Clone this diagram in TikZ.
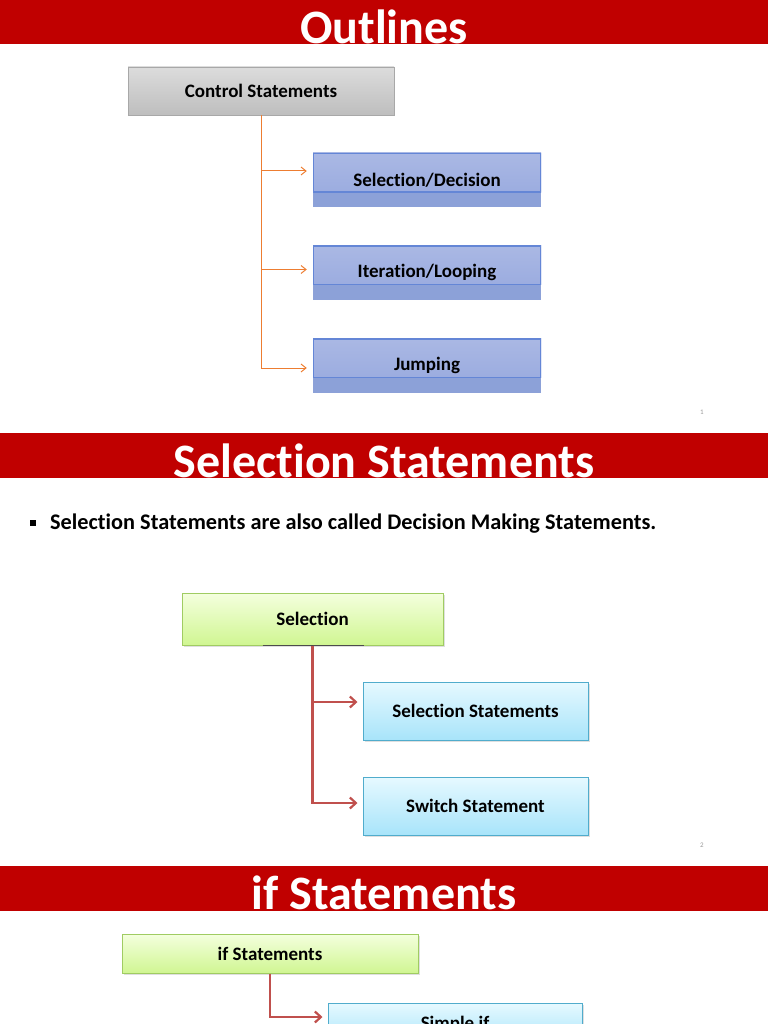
\documentclass[tikz,border=0pt]{standalone}
\usepackage{fontspec}
\setmainfont[Ligatures=NoCommon]{Carlito}
\usetikzlibrary{arrows.meta,shadows}
\definecolor{SlideRed}{RGB}{192,0,0}
\definecolor{GrayTop}{RGB}{220,220,220}
\definecolor{GrayBot}{RGB}{190,190,190}
\definecolor{GrayEdge}{RGB}{168,168,168}
\definecolor{LinkOrange}{RGB}{237,125,49}
\definecolor{BlueTop}{RGB}{170,184,228}
\definecolor{BlueBot}{RGB}{150,168,222}
\definecolor{BlueStrip}{RGB}{140,161,216}
\definecolor{BlueEdge}{RGB}{100,134,214}
\definecolor{GreenTop}{RGB}{244,255,222}
\definecolor{GreenBot}{RGB}{208,246,146}
\definecolor{GreenEdge}{RGB}{160,204,98}
\definecolor{CyanTop}{RGB}{230,249,255}
\definecolor{CyanBot}{RGB}{168,228,250}
\definecolor{CyanEdge}{RGB}{80,172,204}
\definecolor{LinkRed}{RGB}{192,80,77}

\begin{document}
\begin{tikzpicture}[x=1pt, y=-1pt,
        band/.style={fill=SlideRed, minimum width=768pt, minimum height=45pt, inner sep=0pt},
        heading/.style={text=white, inner sep=0pt, font=\fontsize{48}{48}\selectfont\bfseries},
        boxtext/.style={font=\fontsize{19}{21}\selectfont\bfseries, align=center, inner sep=0pt},
        graybox/.style={boxtext, draw=GrayEdge, top color=GrayTop, bottom color=GrayBot,
                                minimum width=266pt, minimum height=48pt},
        bluebox/.style={boxtext, fill=BlueStrip, minimum width=228pt, minimum height=54pt,
                                path picture={\fill[top color=BlueTop, bottom color=BlueBot, draw=BlueEdge]
                                    (path picture bounding box.north west) rectangle
                                    ([yshift=15pt]path picture bounding box.south east);
                                    \draw[BlueEdge, line width=1.2pt]
                                    ([xshift=0.6pt,yshift=-0.6pt]path picture bounding box.north west) rectangle
                                    ([xshift=-0.6pt,yshift=15pt]path picture bounding box.south east);}},
        greenbox/.style={boxtext, draw=GreenEdge, line width=1pt, top color=GreenTop, bottom color=GreenBot,
                                drop shadow={opacity=0.25, shadow xshift=1.5pt, shadow yshift=-1.5pt}},
        cyanbox/.style={boxtext, draw=CyanEdge, line width=1pt, top color=CyanTop, bottom color=CyanBot,
                                minimum width=225pt, minimum height=58pt,
                                drop shadow={opacity=0.25, shadow xshift=1.5pt, shadow yshift=-1.5pt}},
        orarr/.style={-{Straight Barb[length=5pt, width=8pt]}, LinkOrange, line width=1pt, shorten >=6pt},
        redarr/.style={-{Straight Barb[length=6pt, width=11pt]}, LinkRed, line width=2.2pt, shorten >=5pt},
        pagenum/.style={text=black!40, font=\fontsize{7}{8}\selectfont}
]
    \useasboundingbox (0,0) rectangle (768,1024);
    \clip (0,0) rectangle (768,1024);

    \node[band] (band1) at (384,22) {};
    \node[heading] (title1) at (384,27) {Outlines};
    \node[graybox] (ctrl) at (261,91) {Control Statements};
    \node[bluebox] (seldec) at (427,180) {Selection/Decision};
    \node[bluebox] (iter) at (427,272.5) {Iteration/Looping};
    \node[bluebox] (jump) at (427,365.5) {Jumping};
    \draw[orarr] (ctrl.south) |- ([yshift=9pt]seldec.west);
    \draw[orarr] (ctrl.south) |- ([yshift=3pt]iter.west);
    \draw[orarr] (ctrl.south) |- ([yshift=-2.5pt]jump.west);
    \node[pagenum] (num1) at (702,412) {1};

    \node[band] (band2) at (384,455.5) {};
    \node[heading] (title2) at (384,461) {Selection Statements};
    \node[fill=black, minimum size=6pt, inner sep=0pt] (bullet) at (33,523) {};
    \node[anchor=west, inner sep=0pt, font=\fontsize{22.3}{24}\selectfont\bfseries] (intro) at (50,524)
        {Selection Statements are also called Decision Making Statements.};
    \node[greenbox, minimum width=261pt, minimum height=52pt] (select) at (312.5,619) {Selection};
    \draw[line width=1.8pt, black!70] ([xshift=-50pt]select.south) -- ([xshift=51pt]select.south);
    \node[cyanbox] (selst) at (475.5,711) {Selection Statements};
    \node[cyanbox] (switch) at (475.5,806) {Switch Statement};
    \draw[redarr] (select.south) |- ([yshift=9pt]selst.west);
    \draw[redarr] (select.south) |- ([yshift=3pt]switch.west);
    \node[pagenum] (num2) at (702,845) {2};

    \node[band] (band3) at (384,888.5) {};
    \node[heading] (title3) at (384,893) {if Statements};
    \node[greenbox, minimum width=296pt, minimum height=39pt] (ifst) at (270,953.5) {if Statements};
    \node[cyanbox, minimum width=254pt, minimum height=42pt] (simple) at (455,1024) {Simple if};
    \draw[redarr] (ifst.south) |- ([yshift=7pt]simple.west);
\end{tikzpicture}
\end{document}
